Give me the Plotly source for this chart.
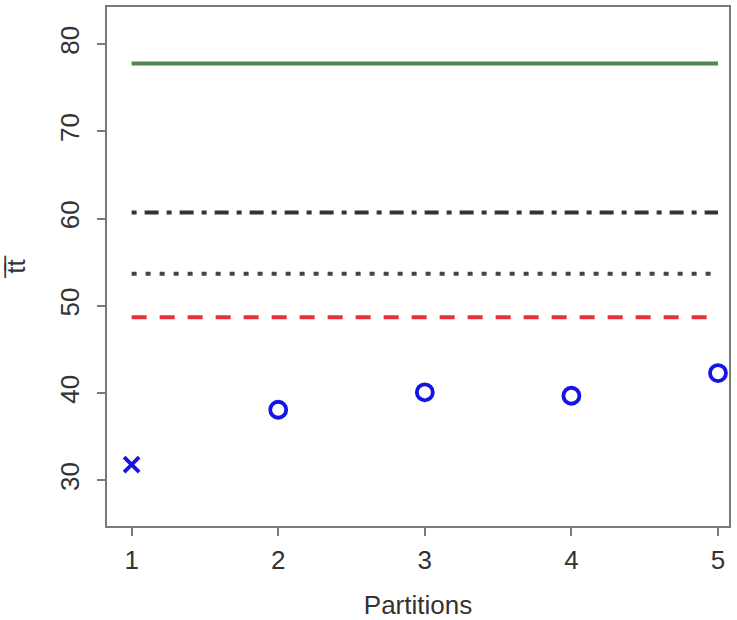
import plotly.graph_objects as go

partitions = [1, 2, 3, 4, 5]
tt_points = [31.8, 38.1, 40.1, 39.7, 42.3]
point_symbols = ["x-thin-open", "circle-open", "circle-open", "circle-open", "circle-open"]
ref_green = 77.8
ref_dashdot = 60.7
ref_dotted = 53.7
ref_red = 48.7
x_ticks = [1, 2, 3, 4, 5]
y_ticks = [30, 40, 50, 60, 70, 80]

fig = go.Figure()

def hline(y, color, dash, width=4):
    fig.add_trace(go.Scatter(x=[partitions[0], partitions[-1]], y=[y, y], mode="lines",
                             line=dict(color=color, width=width, dash=dash), showlegend=False))

hline(ref_green, "#4e8752", "solid")
hline(ref_dashdot, "#333333", "5px,8px,14px,8px")
hline(ref_dotted, "#444444", "5px,9px")
hline(ref_red, "#e8323a", "15px,13px")

fig.add_trace(go.Scatter(x=partitions, y=tt_points, mode="markers",
                         marker=dict(symbol=point_symbols, size=[15, 16, 16, 16, 16], opacity=1,
                                     color="#1414e6", line=dict(color="#1414e6", width=3.8)),
                         opacity=1, showlegend=False))

tickfont = dict(family="Liberation Sans, Arial", size=26, color="#333333")
axis_common = dict(showline=True, linecolor="#7a7a7a", linewidth=1.5, mirror=True,
                   ticks="outside", ticklen=8, tickcolor="#7a7a7a", tickwidth=1.5,
                   showgrid=False, zeroline=False, tickfont=tickfont)

fig.update_xaxes(range=[0.832, 5.075], tickvals=x_ticks, ticklabelstandoff=2,
                 title=dict(text="Partitions", font=dict(family="Liberation Sans, Arial", size=26, color="#333333"), standoff=22),
                 **axis_common)
fig.update_yaxes(range=[24.77, 84.27], tickvals=y_ticks, tickangle=-90, ticklabelstandoff=8,
                 title=dict(text="t\u0305t\u0305", font=dict(family="Liberation Sans, Arial", size=26, color="#333333"), standoff=22),
                 **axis_common)

fig.update_layout(width=737, height=620, margin=dict(l=107, r=8, t=5, b=92),
                  plot_bgcolor="white", paper_bgcolor="white")

fig.write_html("out.html")
